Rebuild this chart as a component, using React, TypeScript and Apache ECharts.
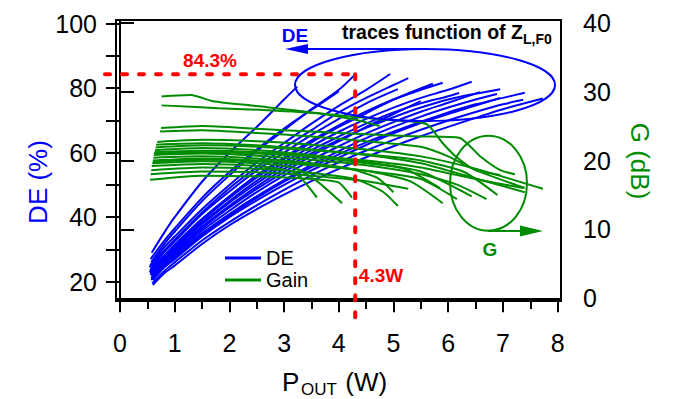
import React, { useEffect, useRef } from "react";
import * as echarts from "echarts";

// Axis tick positions
const xTicks = [0, 1, 2, 3, 4, 5, 6, 7, 8];
const xMinorTicks = [0.5, 1.5, 2.5, 3.5, 4.5, 5.5, 6.5, 7.5];
const deTicks = [20, 30, 40, 50, 60, 70, 80, 90, 100];
const deLabels = [20, 40, 60, 80, 100];
const gTicks = [0, 10, 20, 30, 40];

// Drain efficiency traces [Pout (W), DE (%)], one per load impedance
const deTraces: number[][][] = [
  [[0.58, 29], [0.8, 35], [1, 40], [1.5, 51], [2, 60], [2.5, 68], [3, 76.5], [3.24, 80.5]],
  [[0.56, 27], [0.8, 32.5], [1, 36.5], [1.5, 46], [2, 54], [2.5, 61], [3, 67.5], [3.5, 73.3], [4.0, 79]],
  [[0.57, 26], [0.8, 31.5], [1, 35.5], [1.5, 45], [2, 53], [2.5, 60.5], [3, 67], [3.5, 73.5], [4, 79.5], [4.3, 84.3]],
  [[0.55, 25], [0.8, 30.5], [1, 34], [1.5, 42.5], [2, 50], [2.5, 57], [3, 63], [3.5, 69], [4, 74.5], [4.5, 79.5], [4.94, 84.4]],
  [[0.56, 24], [0.8, 29], [1, 32.5], [1.5, 41], [2, 48], [2.5, 54.5], [3, 60], [3.5, 65.5], [4, 70.5], [4.5, 75.3], [5.08, 79.7]],
  [[0.54, 24.5], [0.8, 29.5], [1, 33], [1.5, 41.5], [2, 49], [2.5, 55.5], [3, 61.5], [3.5, 67], [4, 72.5], [4.5, 77], [5, 81], [5.27, 83.1]],
  [[0.57, 23], [0.8, 27.5], [1, 31], [1.5, 39], [2, 46], [2.5, 52.3], [3, 58], [3.5, 63.2], [4, 68], [4.5, 72.2], [5, 76.5], [5.72, 81.4]],
  [[0.55, 23.5], [0.8, 28], [1, 31.5], [1.5, 39.5], [2, 46.5], [2.5, 53], [3, 58.5], [3.5, 63.8], [4, 68.5], [4.5, 72.8], [5, 76.5], [5.5, 79.5], [5.9, 81.7]],
  [[0.58, 22], [0.8, 26], [1, 29], [1.5, 36.5], [2, 43], [2.5, 48.8], [3, 54], [3.5, 59], [4, 63.5], [4.5, 68], [5, 72], [5.5, 76]],
  [[0.54, 23], [0.8, 27.5], [1, 30.5], [1.5, 38.3], [2, 45], [2.5, 51.3], [3, 57], [3.5, 62], [4, 66.5], [4.5, 70.5], [5, 74], [5.5, 77], [6, 79.5], [6.43, 82]],
  [[0.58, 21.5], [0.8, 25.5], [1, 28.5], [1.5, 35.8], [2, 42], [2.5, 47.8], [3, 53], [3.5, 57.7], [4, 62], [4.5, 66], [5, 69.5], [5.5, 72.7], [6, 75.5], [6.58, 78.8]],
  [[0.56, 22], [0.8, 26.5], [1, 29.5], [1.5, 37], [2, 43.5], [2.5, 49.5], [3, 55], [3.5, 59.8], [4, 64], [4.5, 67.7], [5, 71], [5.5, 74], [6, 76.5], [6.5, 78.3], [6.95, 79.7]],
  [[0.57, 21], [0.8, 25], [1, 28], [1.5, 35], [2, 41], [2.5, 46.5], [3, 51.5], [3.5, 56.2], [4, 60.5], [4.5, 64.5], [5, 68], [5.5, 71.2], [6, 74], [6.5, 76.5], [6.89, 78.2]],
  [[0.6, 20.5], [0.8, 24.3], [1, 27], [1.5, 34], [2, 40], [2.5, 45.2], [3, 50], [3.5, 54.5], [4, 58.5], [4.5, 62.4], [5, 66], [5.5, 69.2], [6, 72], [6.5, 74.6], [6.95, 77]],
  [[0.57, 20.5], [0.8, 24.5], [1, 27.5], [1.5, 34.5], [2, 40.5], [2.5, 46], [3, 51], [3.5, 55.5], [4, 59.5], [4.5, 63.2], [5, 66.5], [5.5, 69.6], [6, 72.5], [6.5, 75], [7, 77], [7.4, 78.6]],
  [[0.59, 19.5], [0.8, 23.2], [1, 26], [1.5, 32.8], [2, 38.5], [2.5, 43.7], [3, 48.5], [3.5, 53], [4, 57], [4.5, 60.7], [5, 64], [5.5, 67.1], [6, 70], [6.5, 72.6], [7, 75], [7.37, 76.4]],
  [[0.6, 19], [0.8, 22.5], [1, 25], [1.5, 31.7], [2, 37.5], [2.5, 42.5], [3, 47], [3.5, 51.2], [4, 55], [4.5, 58.6], [5, 62], [5.5, 65.1], [6, 68], [6.5, 70.8], [7, 73.5], [7.73, 76.8]],
  [[0.55, 22.5], [0.8, 27], [1, 30], [1.5, 37.8], [2, 44.5], [2.5, 50.5], [3, 56], [3.5, 60.8], [4, 65], [4.5, 69], [5, 72.5], [5.5, 75.3], [6, 77.5], [6.2, 78.5]],
];

// Gain traces [Pout (W), G (dB)]
const gainTraces: number[][][] = [
  [[0.76, 29.3], [1.3, 29.5], [1.7, 28.6], [2.5, 27.9], [3.6, 26.9], [4.3, 25.9], [4.75, 25.0]],
  [[0.76, 28.0], [1.8, 27.6], [2.7, 27.3], [3.7, 26.8], [4.7, 26.0], [5.6, 25.3], [5.9, 22.5], [6.15, 20.5], [6.5, 18.6], [6.95, 17.9]],
  [[0.75, 24.7], [1.5, 25.0], [2.5, 24.6], [3.5, 24.2], [4.5, 23.8], [5.5, 23.5], [6.2, 23.3], [6.6, 20.5], [6.95, 18.6], [7.22, 18.0]],
  [[0.73, 24.2], [1.5, 24.4], [2.5, 24.0], [3.5, 23.5], [4.5, 22.8], [5.5, 22.0], [6.0, 20.6], [6.5, 18.6], [7.4, 16.0]],
  [[0.68, 22.7], [1.5, 23.0], [2.5, 22.8], [3.5, 22.3], [4.5, 21.6], [5.5, 20.6], [6.5, 18.8], [7.73, 15.9]],
  [[0.66, 22.3], [1.5, 22.5], [2.5, 22.2], [3.5, 21.6], [4.5, 20.8], [5.5, 19.6], [6.5, 17.4], [7.4, 15.4]],
  [[0.65, 21.9], [1.5, 22.2], [2.5, 22.0], [3.5, 21.5], [4.5, 20.9], [5.5, 20.0], [6.3, 18.3], [6.9, 15.0]],
  [[0.64, 21.5], [1.5, 21.8], [2.5, 21.5], [3.5, 20.8], [4.5, 19.8], [5.5, 18.4], [6.43, 14.8]],
  [[0.63, 21.2], [1.5, 21.4], [2.5, 21.2], [3.5, 20.7], [4.5, 20.0], [5.5, 19.0], [6.5, 17.3], [7.37, 16.0]],
  [[0.62, 20.8], [1.5, 21.0], [2.5, 20.7], [3.5, 20.1], [4.5, 19.3], [5.5, 18.0], [6.16, 16.5], [6.7, 14.4]],
  [[0.61, 20.4], [1.5, 20.6], [2.5, 20.3], [3.5, 19.6], [4.2, 18.8], [4.7, 17.5], [5.0, 15.4]],
  [[0.6, 20.0], [1.5, 20.3], [2.5, 20.0], [3.5, 19.4], [4.5, 18.5], [5.3, 17.0], [5.9, 13.8]],
  [[0.59, 19.6], [1.5, 19.9], [2.5, 19.6], [3.2, 18.9], [3.6, 17.0], [4.06, 13.8]],
  [[0.58, 19.2], [1.5, 19.5], [2.5, 19.2], [3.2, 18.2], [3.6, 14.6]],
  [[0.57, 18.6], [1.5, 19.0], [2.5, 18.8], [3.5, 18.2], [4.3, 17.3], [4.8, 15.5], [5.08, 13.4]],
  [[0.56, 18.0], [1.5, 18.4], [2.5, 18.3], [3.5, 17.8], [4.5, 17.0], [5.27, 15.9]],
  [[0.55, 17.2], [1.5, 17.8], [2.5, 17.7], [3.5, 17.3], [4.0, 16.8], [4.24, 14.6]],
  [[0.6, 19.8], [1.5, 20.1], [2.5, 19.9], [3.5, 19.3], [4.5, 18.5], [5.5, 17.3], [6.16, 14.4]],
  [[0.62, 21.0], [1.5, 21.2], [2.5, 21.0], [3.5, 20.5], [4.5, 19.6], [5.2, 18.8], [5.85, 16.0]],
];

// Peak efficiency operating point
const peakPower = 4.3;
const peakDE = 84.3;

const BLUE = "#0000ff";
const GREEN = "#008c00";
const RED = "#ff0000";
const FONT = "'Liberation Sans', Arial, Helvetica, sans-serif";

function buildGraphics(px: number, py: number) {
  const z = 100;
  const txt = (x: number, y: number, text: string, size: number, color: string, bold: boolean, extra: any = {}) => ({
    type: "text",
    x,
    y,
    z,
    ...extra,
    style: {
      text,
      fill: color,
      font: `${bold ? "bold " : ""}${size}px ${FONT}`,
      align: extra.align || "center",
      verticalAlign: "middle",
    },
  });
  return [
    // dashed guides at the peak efficiency point
    {
      type: "line", z,
      shape: { x1: 105, y1: py, x2: px, y2: py },
      style: { stroke: RED, lineWidth: 4, lineDash: [5, 12], lineCap: "round" },
    },
    {
      type: "line", z,
      shape: { x1: px, y1: py, x2: px, y2: 320 },
      style: { stroke: RED, lineWidth: 4, lineDash: [5, 12], lineCap: "round" },
    },
    txt(210, 60, "84.3%", 19, RED, true),
    txt(381, 275, "4.3W", 19, RED, true),
    // DE group marker
    {
      type: "ellipse", z,
      shape: { cx: 425, cy: 85, rx: 130, ry: 36 },
      style: { fill: "none", stroke: BLUE, lineWidth: 2 },
    },
    {
      type: "line", z,
      shape: { x1: 300, y1: 49, x2: 425, y2: 49 },
      style: { stroke: BLUE, lineWidth: 2 },
    },
    {
      type: "polygon", z,
      shape: { points: [[285, 49], [308, 44], [308, 54]] },
      style: { fill: BLUE },
    },
    txt(295, 35, "DE", 19, BLUE, true),
    txt(342, 32, "traces function of Z", 19.5, "#000", true, { align: "left" }),
    txt(523, 38.5, "L,F0", 14, "#000", true, { align: "left" }),
    // Gain group marker
    {
      type: "ellipse", z,
      shape: { cx: 488.5, cy: 183.2, rx: 38.5, ry: 47.5 },
      style: { fill: "none", stroke: GREEN, lineWidth: 2 },
    },
    {
      type: "line", z,
      shape: { x1: 488, y1: 231, x2: 525, y2: 231 },
      style: { stroke: GREEN, lineWidth: 2 },
    },
    {
      type: "polygon", z,
      shape: { points: [[543, 231], [520, 225.5], [520, 236.5]] },
      style: { fill: GREEN },
    },
    txt(490, 249, "G", 19, GREEN, true),
    // axis titles
    txt(38, 182, "DE (%)", 26, BLUE, false, { rotation: Math.PI / 2 }),
    txt(640, 161, "G (dB)", 26, GREEN, false, { rotation: -Math.PI / 2 }),
    txt(282, 381.5, "P", 26, "#000", false, { align: "left" }),
    txt(301, 389, "OUT", 17, "#000", false, { align: "left" }),
    txt(338, 381.5, " (W)", 26, "#000", false, { align: "left" }),
  ];
}

export default function App() {
  const ref = useRef<HTMLDivElement>(null);

  useEffect(() => {
    if (!ref.current) return;
    const chart = echarts.init(ref.current, null, { renderer: "svg" });

    const deSeries = deTraces.map((trace) => ({
      type: "line",
      name: "DE",
      data: trace,
      xAxisIndex: 0,
      yAxisIndex: 0,
      showSymbol: false,
      symbol: "none",
      smooth: 0.3,
      silent: true,
      lineStyle: { color: BLUE, width: 2 },
      itemStyle: { color: BLUE },
    }));
    const gainSeries = gainTraces.map((trace) => ({
      type: "line",
      name: "Gain",
      data: trace,
      xAxisIndex: 0,
      yAxisIndex: 1,
      showSymbol: false,
      symbol: "none",
      smooth: 0.2,
      silent: true,
      lineStyle: { color: GREEN, width: 2 },
      itemStyle: { color: GREEN },
    }));

    const tickStyle = { color: "#000", width: 2 };
    const labelStyle = { color: "#000", fontSize: 25, fontFamily: FONT };

    chart.setOption({
      animation: false,
      backgroundColor: "#fff",
      textStyle: { fontFamily: FONT },
      grid: {
        left: 116,
        right: 113,
        top: 20,
        bottom: 98,
        show: true,
        borderColor: "#000",
        borderWidth: 2,
      },
      legend: {
        data: ["DE", "Gain"],
        orient: "vertical",
        left: 220,
        top: 243,
        icon: "rect",
        itemWidth: 36,
        itemHeight: 3,
        itemGap: 2,
        textStyle: { color: "#000", fontSize: 20, fontFamily: FONT },
      },
      xAxis: [
        {
          type: "value",
          min: -0.073,
          max: 8.062,
          position: "bottom",
          axisLine: { show: true, lineStyle: tickStyle },
          axisTick: { show: true, customValues: xTicks, length: 14, lineStyle: tickStyle },
          axisLabel: { show: true, customValues: xTicks, margin: 29, ...labelStyle },
          splitLine: { show: false },
        },
        {
          type: "value",
          min: -0.073,
          max: 8.062,
          position: "bottom",
          axisLine: { show: false },
          axisTick: { show: true, customValues: xMinorTicks, length: 8, lineStyle: tickStyle },
          axisLabel: { show: false },
          splitLine: { show: false },
        },
      ],
      yAxis: [
        {
          type: "value",
          min: 14.02,
          max: 101.15,
          position: "left",
          axisLine: { show: true, lineStyle: tickStyle },
          axisTick: { show: true, customValues: deTicks, length: 14, lineStyle: tickStyle },
          axisLabel: { show: true, customValues: deLabels, margin: 19, ...labelStyle },
          splitLine: { show: false },
        },
        {
          type: "value",
          min: -0.39,
          max: 40.39,
          position: "right",
          axisLine: { show: true, lineStyle: tickStyle },
          axisTick: { show: true, customValues: gTicks, length: 14, lineStyle: tickStyle },
          axisLabel: { show: true, customValues: gTicks, margin: 22, ...labelStyle },
          splitLine: { show: false },
        },
      ],
      series: [...deSeries, ...gainSeries],
    });

    const pt = chart.convertToPixel({ xAxisIndex: 0, yAxisIndex: 0 }, [peakPower, peakDE]) as number[];
    chart.setOption({ graphic: buildGraphics(pt[0], pt[1]) });

    return () => chart.dispose();
  }, []);

  return (
    <div
      ref={ref}
      style={{ position: "absolute", left: 0, top: 0, width: 674, height: 399 }}
    />
  );
}
